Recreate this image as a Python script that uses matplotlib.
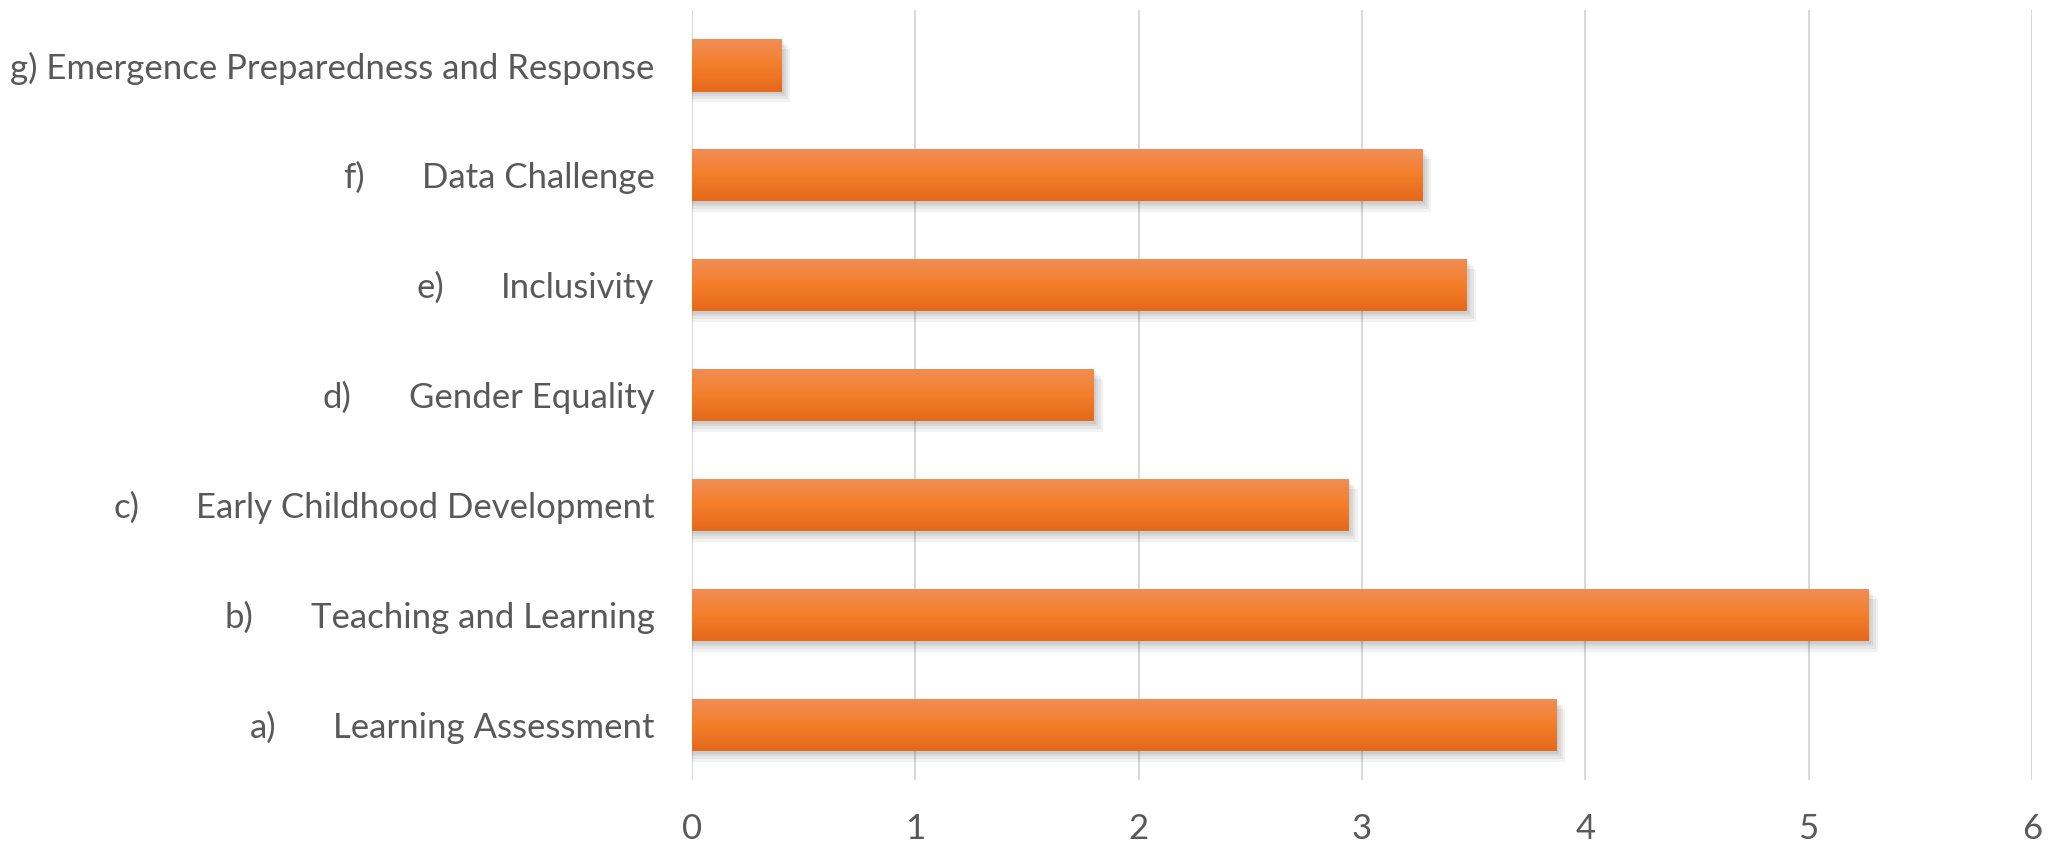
import matplotlib
matplotlib.use("Agg")
import matplotlib.pyplot as plt
import numpy as np
from matplotlib.colors import LinearSegmentedColormap
from matplotlib.transforms import blended_transform_factory

prefixes = ["a)", "b)", "c)", "d)", "e)", "f)", "g)"]
names = ["Learning Assessment", "Teaching and Learning", "Early Childhood Development",
         "Gender Equality", "Inclusivity", "Data Challenge",
         "Emergence Preparedness and Response"]
values = [3.87, 5.27, 2.94, 1.80, 3.47, 3.27, 0.40]
xticks = [0, 1, 2, 3, 4, 5, 6]

FONT = "Lato"
TXT = "#595959"
FS = 25

fig = plt.figure(figsize=(20.56, 8.43), dpi=100)
ax = fig.add_axes([0.3366, 0.0747, 0.9883 - 0.3366, 0.988 - 0.0747])
ypos = np.arange(len(names))

# shadow
for k in range(4):
    off = 0.02 + 0.025 * k
    ax.barh(ypos - off, [v + 0.01 + 0.01 * k for v in values], height=0.48,
            color="black", alpha=0.05, zorder=2, linewidth=0)

bars = ax.barh(ypos, values, height=0.48, color="#F37F2A", zorder=3, linewidth=0)
cmap = LinearSegmentedColormap.from_list("o", ["#E4691A", "#F47E2A", "#F08E57"])
grad = np.linspace(0, 1, 100).reshape(-1, 1)
for b in bars:
    x0, y0 = b.get_x(), b.get_y()
    w, h = b.get_width(), b.get_height()
    im = ax.imshow(grad, cmap=cmap, aspect="auto", origin="lower",
                   extent=[x0, x0 + w, y0, y0 + h], zorder=4)
    im.set_clip_path(b)

ax.set_xlim(0, 6)
ax.set_ylim(-0.5, 6.5)
ax.set_xticks(xticks)
ax.set_xticklabels([str(t) for t in xticks], fontsize=FS, color=TXT, family=FONT)
labs = [("g) " + n if p == "g)" else n) for p, n in zip(prefixes, names)]
ax.set_yticks(ypos)
ax.set_yticklabels(labs, fontsize=FS, color=TXT, family=FONT)
ax.tick_params(axis="both", length=0)
ax.tick_params(axis="y", pad=27)
ax.tick_params(axis="x", pad=24)
ax.grid(axis="x", color="#D9D9D9", linewidth=1.5, zorder=0)
ax.set_axisbelow(True)
for s in ax.spines.values():
    s.set_visible(False)

fig.canvas.draw()
r = fig.canvas.get_renderer()
inv = fig.transFigure.inverted()
tr = blended_transform_factory(fig.transFigure, ax.transData)
for lab, p, y in zip(ax.get_yticklabels(), prefixes, ypos):
    if p == "g)":
        continue
    bb = lab.get_window_extent(r)
    fx = inv.transform((bb.x0 - 57, 0))[0]
    fig.text(fx, y, p, ha="right", va="center_baseline", fontsize=FS,
             color=TXT, family=FONT, transform=tr)

fig.savefig("out.png", dpi=100, facecolor="white")
